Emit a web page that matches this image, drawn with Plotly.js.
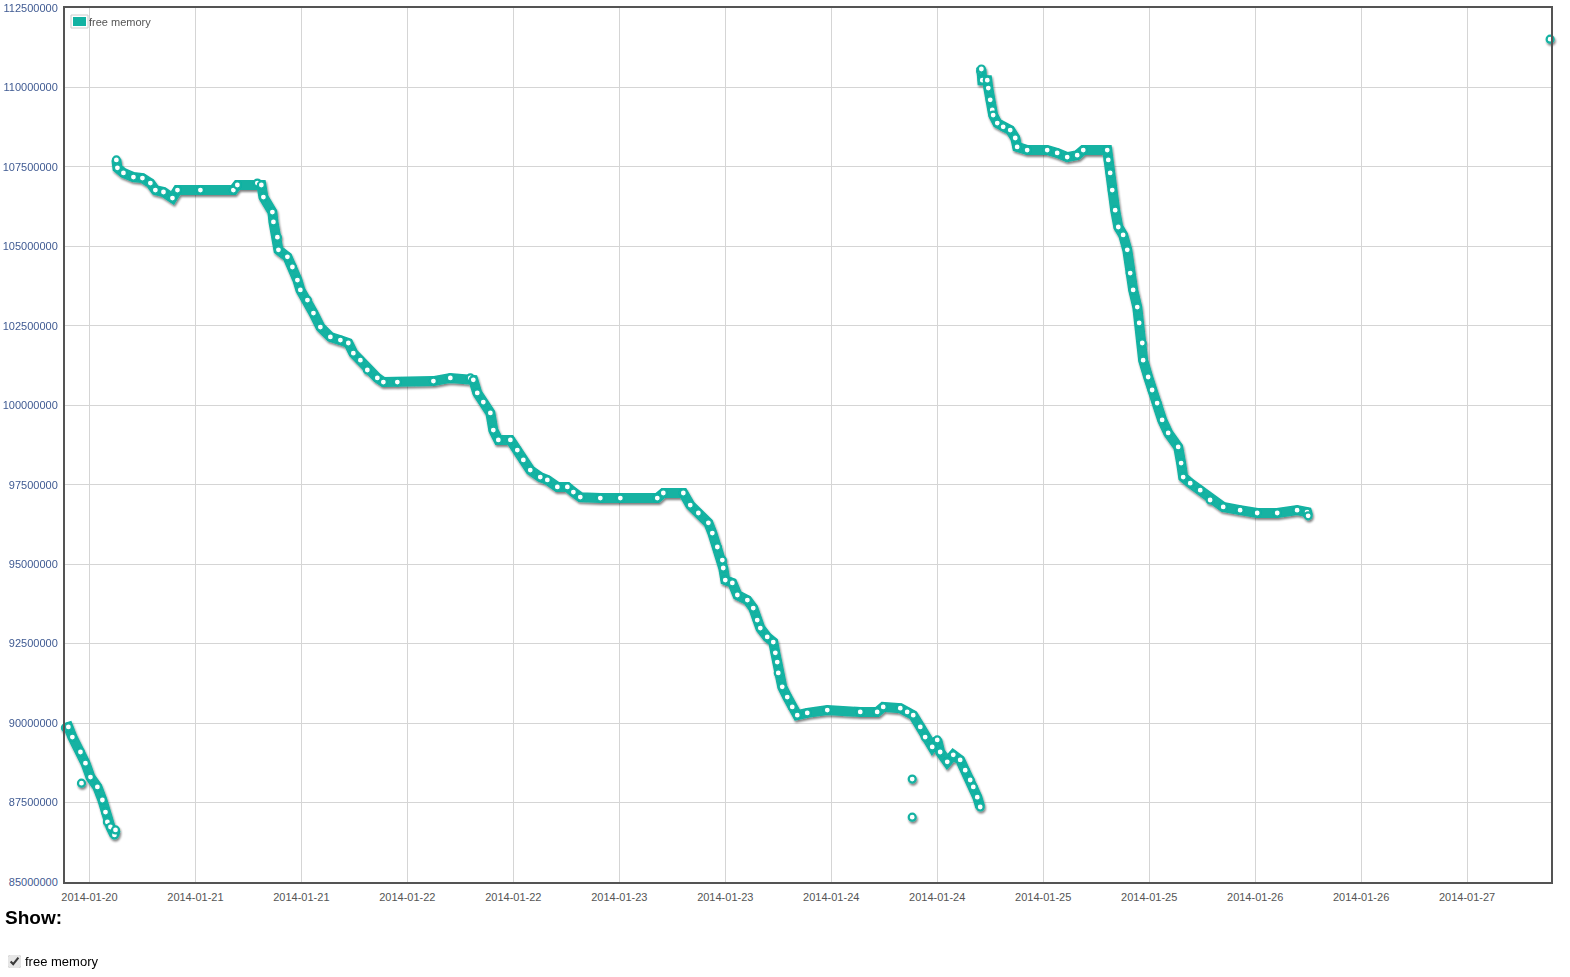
<!DOCTYPE html>
<html>
<head>
<meta charset="utf-8">
<script src="https://cdn.plot.ly/plotly-3.0.1.min.js"></script>
<style>
  html, body { margin: 0; padding: 0; background: #fff; }
  #chart { position: absolute; left: 0; top: 0; width: 1570px; height: 977px; }
  #show { position: absolute; left: 5px; top: 908px; font-family: "Liberation Sans", Arial, sans-serif; font-weight: bold; font-size: 19px; line-height: 19px; color: #000; }
  #opt { position: absolute; left: 8px; top: 954px; font-family: "Liberation Sans", Arial, sans-serif; font-size: 13px; line-height: 15px; color: #000; display: flex; align-items: center; }
  #opt input { margin: 0 4px 0 0; width: 13px; height: 13px; accent-color: #e6e6e6; }
</style>
</head>
<body>
<svg width="0" height="0" style="position:absolute">
  <defs>
    <filter id="shadow" x="-5%" y="-5%" width="110%" height="115%">
      <feGaussianBlur in="SourceAlpha" stdDeviation="1.2" result="b"/>
      <feOffset in="b" dx="0.5" dy="2" result="o"/>
      <feComponentTransfer in="o" result="s"><feFuncA type="linear" slope="0.5"/></feComponentTransfer>
      <feMerge><feMergeNode in="s"/><feMergeNode in="SourceGraphic"/></feMerge>
    </filter>
  </defs>
</svg>
<div id="chart"></div>
<div id="show">Show:</div>
<div id="opt"><input type="checkbox" checked><span>free memory</span></div>
<script>
// ---- data ----
const seriesName = "free memory";

const seg1Times = ["2014-01-20 09:17","2014-01-20 09:37","2014-01-20 10:04","2014-01-20 10:59","2014-01-20 11:33","2014-01-20 12:07","2014-01-20 12:54","2014-01-20 13:28","2014-01-20 13:49","2014-01-20 14:02","2014-01-20 14:23","2014-01-20 14:50","2014-01-20 14:57"];
const seg1Values = [89850000,89880000,89560000,89090000,88740000,88300000,87990000,87580000,87200000,86890000,86730000,86480000,86640000];

const seg2Times = ["2014-01-20 15:03","2014-01-20 15:10","2014-01-20 15:51","2014-01-20 16:59","2014-01-20 18:00","2014-01-20 18:54","2014-01-20 19:28","2014-01-20 20:23","2014-01-20 21:24","2014-01-20 21:58",
"2014-01-21 00:34","2014-01-21 04:18","2014-01-21 04:45","2014-01-21 07:01","2014-01-21 07:28","2014-01-21 07:42","2014-01-21 08:43","2014-01-21 08:50","2014-01-21 09:17","2014-01-21 09:24",
"2014-01-21 10:25","2014-01-21 10:59","2014-01-21 11:33","2014-01-21 11:53","2014-01-21 12:41","2014-01-21 13:22","2014-01-21 14:09","2014-01-21 15:17","2014-01-21 16:25","2014-01-21 17:19",
"2014-01-21 17:53","2014-01-21 18:41","2014-01-21 19:28","2014-01-21 20:36","2014-01-21 21:17","2014-01-21 22:52","2014-01-22 02:57","2014-01-22 04:52","2014-01-22 07:08","2014-01-22 07:28",
"2014-01-22 07:55","2014-01-22 08:36","2014-01-22 09:24","2014-01-22 09:44","2014-01-22 10:18","2014-01-22 11:40","2014-01-22 12:27","2014-01-22 13:08","2014-01-22 13:55","2014-01-22 15:03",
"2014-01-22 15:51","2014-01-22 16:59","2014-01-22 18:07","2014-01-22 18:48","2014-01-22 19:35","2014-01-22 21:51","2014-01-23 00:07","2014-01-23 04:18","2014-01-23 04:59","2014-01-23 07:15",
"2014-01-23 08:02","2014-01-23 08:57","2014-01-23 10:05","2014-01-23 10:32","2014-01-23 11:06","2014-01-23 11:40","2014-01-23 11:46","2014-01-23 12:00","2014-01-23 12:48","2014-01-23 13:22",
"2014-01-23 14:30","2014-01-23 15:10","2014-01-23 15:37","2014-01-23 15:58","2014-01-23 16:45","2014-01-23 17:26","2014-01-23 17:40","2014-01-23 17:53","2014-01-23 18:00","2014-01-23 18:27",
"2014-01-23 19:01","2014-01-23 19:35","2014-01-23 20:09","2014-01-23 21:17","2014-01-23 23:33","2014-01-24 03:17","2014-01-24 05:12","2014-01-24 05:53","2014-01-24 07:49","2014-01-24 08:36",
"2014-01-24 09:17","2014-01-24 10:05","2014-01-24 10:38","2014-01-24 11:26","2014-01-24 12:00","2014-01-24 12:20","2014-01-24 13:08","2014-01-24 13:49","2014-01-24 14:36","2014-01-24 15:10",
"2014-01-24 15:44","2014-01-24 16:05","2014-01-24 16:32","2014-01-24 16:52"];
const seg2Values = [107720000,107470000,107310000,107180000,107150000,106990000,106770000,106710000,106520000,106770000,
106770000,106770000,106930000,106990000,106930000,106550000,106080000,105770000,105290000,104890000,
104670000,104350000,103940000,103630000,103310000,102900000,102460000,102150000,102050000,101960000,
101640000,101420000,101110000,100860000,100730000,100730000,100760000,100860000,100860000,100800000,
100390000,100100000,99760000,99220000,98910000,98910000,98590000,98280000,97960000,97740000,
97650000,97430000,97430000,97270000,97110000,97080000,97080000,97080000,97240000,97240000,
96860000,96610000,96300000,95980000,95540000,95130000,94880000,94500000,94410000,94030000,
93870000,93620000,93240000,92990000,92710000,92550000,92210000,91920000,91580000,91140000,
90820000,90510000,90250000,90320000,90410000,90350000,90350000,90510000,90470000,90350000,
90250000,89880000,89560000,89250000,89470000,89090000,88780000,89000000,88840000,88520000,
88210000,87990000,87670000,87360000];

const seg3Times = ["2014-01-24 16:55","2014-01-24 17:00","2014-01-24 17:06","2014-01-24 17:40","2014-01-24 17:47","2014-01-24 18:00","2014-01-24 18:14","2014-01-24 18:20","2014-01-24 18:48","2014-01-24 19:28",
"2014-01-24 20:16","2014-01-24 20:50","2014-01-24 21:03","2014-01-24 22:11","2014-01-25 00:27","2014-01-25 01:35","2014-01-25 02:43","2014-01-25 03:51","2014-01-25 04:32","2014-01-25 07:15",
"2014-01-25 07:22","2014-01-25 07:35","2014-01-25 07:49","2014-01-25 08:09","2014-01-25 08:30","2014-01-25 09:03","2014-01-25 09:31","2014-01-25 09:51","2014-01-25 10:11","2014-01-25 10:39",
"2014-01-25 10:52","2014-01-25 11:13","2014-01-25 11:19","2014-01-25 11:53","2014-01-25 12:20","2014-01-25 12:54","2014-01-25 13:28","2014-01-25 14:09","2014-01-25 15:17","2014-01-25 15:37",
"2014-01-25 15:51","2014-01-25 16:39","2014-01-25 17:47","2014-01-25 18:54","2014-01-25 20:23","2014-01-25 22:18","2014-01-26 00:14","2014-01-26 02:30","2014-01-26 04:45","2014-01-26 05:53",
"2014-01-26 06:00"];
const seg3Values = [110520000,110580000,110230000,110230000,109980000,109610000,109290000,109130000,108880000,108760000,
108660000,108410000,108130000,108030000,108030000,107940000,107810000,107870000,108030000,108030000,
107720000,107310000,106770000,106140000,105610000,105360000,104890000,104160000,103630000,103090000,
102590000,101960000,101420000,100890000,100480000,100070000,99540000,99130000,98690000,98180000,
97740000,97550000,97330000,97020000,96800000,96700000,96610000,96610000,96700000,96640000,
96520000];

const lastTimes = ["2014-01-27 09:24"];
const lastValues = [111520000];

const outlierTimes = ["2014-01-20 11:06","2014-01-24 09:10","2014-01-24 09:10"];
const outlierValues = [88110000,88240000,87040000];

const xRange = ["2014-01-20 09:14","2014-01-27 09:30"];
const yRange = [85000000,112500000];

// ---- build ----
const teal = "#12b2a2";
const mainX = [].concat(seg1Times,[null],seg2Times,[null],seg3Times,[null],lastTimes);
const mainY = [].concat(seg1Values,[null],seg2Values,[null],seg3Values,[null],lastValues);

const markerStyle = { symbol: "circle", size: 7, color: "#ffffff", line: { color: teal, width: 2.2 } };

const traces = [
  { x: mainX, y: mainY, type: "scatter", mode: "lines+markers", name: seriesName,
    line: { color: teal, width: 10, shape: "linear" }, marker: markerStyle,
    connectgaps: false, cliponaxis: false, hoverinfo: "x+y" },
  { x: outlierTimes, y: outlierValues, type: "scatter", mode: "markers", name: seriesName,
    marker: markerStyle, showlegend: false, cliponaxis: false, hoverinfo: "x+y" }
];

const font = { family: "'Liberation Sans', Arial, sans-serif", size: 11, color: "#545454" };

const layout = {
  width: 1570, height: 977,
  margin: { l: 65, r: 19, t: 8, b: 95, pad: 0 },
  paper_bgcolor: "#ffffff", plot_bgcolor: "#ffffff",
  showlegend: false,
  font: font,
  xaxis: {
    type: "date", range: xRange, tickmode: "linear", tick0: "2014-01-20 12:00", dtick: 43200000,
    tickformat: "%Y-%m-%d", showgrid: true, gridcolor: "#d5d5d5", gridwidth: 1, zeroline: false,
    showline: true, mirror: true, linecolor: "#545454", linewidth: 2,
    ticks: "outside", ticklen: 4, tickcolor: "rgba(0,0,0,0)", tickfont: font, fixedrange: true
  },
  yaxis: {
    range: yRange, tickmode: "linear", tick0: 85000000, dtick: 2500000, tickformat: "d",
    showgrid: true, gridcolor: "#d5d5d5", gridwidth: 1, zeroline: false,
    showline: true, mirror: true, linecolor: "#545454", linewidth: 2,
    ticks: "outside", ticklen: 3, tickcolor: "rgba(0,0,0,0)",
    tickfont: { family: font.family, size: 11, color: "#3f5a92" }, fixedrange: true
  },
  shapes: [
    { type: "rect", xref: "paper", yref: "paper", xsizemode: "pixel", ysizemode: "pixel",
      xanchor: 0, yanchor: 1, x0: 6, x1: 23, y0: -7, y1: -20,
      fillcolor: "#ffffff", line: { color: "#cccccc", width: 1 } },
    { type: "rect", xref: "paper", yref: "paper", xsizemode: "pixel", ysizemode: "pixel",
      xanchor: 0, yanchor: 1, x0: 8, x1: 21, y0: -9, y1: -18,
      fillcolor: teal, line: { width: 0 } }
  ],
  annotations: [
    { xref: "paper", yref: "paper", x: 0, y: 1, xshift: 22, yshift: -14, xanchor: "left", yanchor: "middle",
      text: seriesName, showarrow: false, font: { family: font.family, size: 11, color: "#545454" } }
  ]
};

Plotly.newPlot("chart", traces, layout, { displayModeBar: false }).then(function (gd) {
  const layer = gd.querySelector(".scatterlayer");
  if (layer) layer.setAttribute("filter", "url(#shadow)");
});
</script>
</body>
</html>
